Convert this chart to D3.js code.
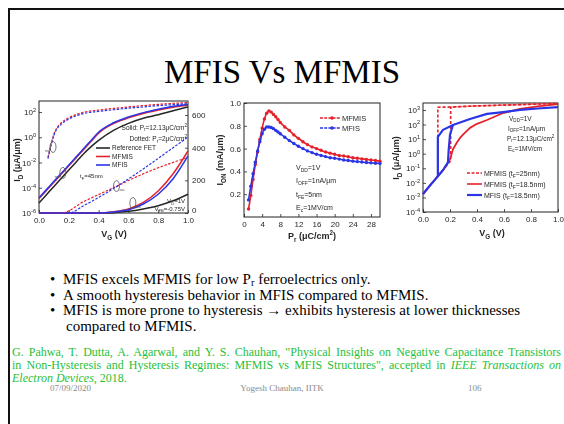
<!DOCTYPE html>
<html><head><meta charset="utf-8">
<script src="https://cdn.jsdelivr.net/npm/d3@7"></script>
<style>
html,body{margin:0;padding:0;background:#fff;}
svg{display:block;}
</style></head><body>
<svg id="slide" width="564" height="424"></svg>
<script>
// ---------- Panel (a): ID–VG, log scale (left) and linear scale (right) ----------
const vgA = [0, 0.05, 0.1, 0.15, 0.2, 0.25, 0.3, 0.35, 0.4, 0.5, 0.6, 0.7, 0.8, 0.9, 1.0];
const idLogRef   = [6.3e-6, 2.8e-5, 1.26e-4, 5.6e-4, 2.5e-3, 1.1e-2, 0.05, 0.18, 0.56, 3.5, 12.6, 32, 60, 126, 251];
const idLogMfmis = [1.4e-5, 6.0e-5, 2.7e-4, 1.2e-3, 5.4e-3, 2.4e-2, 0.107, 0.48, 2.1, 12, 34, 76, 141, 240, 338];
const idLogMfis  = [1.6e-5, 7.1e-5, 3.2e-4, 1.4e-3, 6.3e-3, 2.8e-2, 0.126, 0.56, 2.5, 14, 40, 89, 166, 282, 398];
const vgDot = [0.06, 0.08, 0.1, 0.12, 0.15, 0.2, 0.25, 0.3, 0.4, 0.5, 0.6, 0.7, 0.8, 0.9, 1.0];
const idLogDotMfmis = [2.5e-2, 0.25, 1.8, 5.6, 14, 35, 63, 95, 141, 190, 250, 320, 400, 480, 560];
const idLogDotMfis  = [2.0e-2, 0.2, 1.4, 4.5, 11, 28, 50, 76, 112, 150, 200, 250, 316, 380, 450];
const vgLin = [0, 0.2, 0.4, 0.5, 0.6, 0.7, 0.8, 0.9, 1.0];
const idLinRef   = [0, 0, 0, 2, 10, 25, 45, 75, 115];
const idLinMfmis = [0, 0, 0, 8, 25, 65, 135, 240, 380];
const idLinMfis  = [0, 0, 0, 6, 20, 55, 115, 210, 350];
const vgLinDotMfmis = [0, 0.15, 0.3, 0.5, 0.7, 0.9, 1.0];
const idLinDotMfmis = [0, 0, 70, 155, 240, 310, 340];
const vgLinDotMfis  = [0, 0.2, 0.3, 0.5, 0.7, 0.9, 1.0];
const idLinDotMfis  = [0, 0, 45, 150, 270, 400, 465];
const vgTicks = [0, 0.2, 0.4, 0.6, 0.8, 1.0];
const expTicksA = [2, 0, -2, -4, -6];
const linTicksA = [0, 200, 400, 600];

// ---------- Panel (b): ION vs remanent polarization ----------
const prVals = [1, 1.5, 2, 2.5, 3, 3.5, 4, 4.5, 5, 5.5, 6, 6.5, 7, 7.5, 8,
                9, 10, 11, 12, 13, 14, 15, 16, 17, 18, 19, 20, 21, 22, 23, 24, 25, 26, 27, 28, 29, 30];
const ionMfmis = [0.07, 0.19, 0.33, 0.46, 0.57, 0.68, 0.78, 0.86, 0.91, 0.93, 0.92, 0.90, 0.88, 0.855, 0.83,
                  0.79, 0.76, 0.72, 0.69, 0.66, 0.635, 0.615, 0.60, 0.585, 0.57, 0.56, 0.55, 0.54, 0.535, 0.528, 0.52, 0.515, 0.51, 0.505, 0.50, 0.495, 0.49];
const ionMfis  = [0.15, 0.27, 0.38, 0.48, 0.58, 0.66, 0.73, 0.77, 0.79, 0.79, 0.785, 0.775, 0.76, 0.745, 0.73,
                  0.70, 0.67, 0.645, 0.62, 0.60, 0.58, 0.565, 0.55, 0.54, 0.53, 0.52, 0.515, 0.508, 0.50, 0.495, 0.49, 0.486, 0.482, 0.478, 0.475, 0.472, 0.47];
const prTicks = [0, 4, 8, 12, 16, 20, 24, 28];
const ionTicks = [0.2, 0.4, 0.6, 0.8, 1.0];

// ---------- Panel (c): hysteretic ID–VG sweeps ----------
const vgMfisFwd = [0, 0.05, 0.1, 0.11, 0.11, 0.148, 0.222, 0.348, 0.474, 0.593, 0.719, 0.85, 1.0];
const idMfisFwd = [1.7e-3, 6.3e-3, 2.2e-2, 2.8e-2, 14, 43, 93, 240, 540, 720, 1000, 1260, 1580];
const vgMfisRev = [0.11, 0.15, 0.185, 0.19, 0.2, 0.222];
const idMfisRev = [2.8e-2, 7.9e-2, 0.25, 1.6, 20, 93];
const vgMfmis18 = [0, 0.05, 0.1, 0.15, 0.2, 0.222, 0.25, 0.274, 0.3, 0.348, 0.4, 0.474, 0.593, 0.719, 0.85, 1.0];
const idMfmis18 = [1.7e-3, 6.3e-3, 2.2e-2, 7.9e-2, 0.4, 2, 5.6, 12, 22, 59, 112, 204, 617, 1175, 1780, 2510];
const vgMfmis25Fwd = [0, 0.1, 0.205, 0.205, 0.4, 0.7, 1.0];
const idMfmis25Fwd = [1.7e-3, 2.2e-2, 0.32, 1580, 1900, 2290, 2820];
const vgMfmis25Rev = [1.0, 0.7, 0.4, 0.205, 0.11, 0.11];
const idMfmis25Rev = [2820, 2290, 1900, 1580, 1550, 2.8e-2];
const expTicksC = [3, 2, 1, 0, -1, -2, -3, -4];

const RED = '#e5232b', BLUE = '#2b35e6', INK = '#262626';
const SANS = 'Liberation Sans, Arial, sans-serif';
const SERIF = 'Liberation Serif, Times New Roman, serif';

const svg = d3.select('#slide');
svg.append('defs').append('filter').attr('id', 'soft')
  .append('feGaussianBlur').attr('stdDeviation', 0.5);

const zip = (xs, ys) => xs.map((x, i) => [x, ys[i]]);

// text with sub/superscript runs: parts = [[string, 'n'|'sub'|'sup'], ...]
function rich(text, parts, fs, subShift = 0.3) {
  let shift = 0;
  parts.forEach(([s, kind]) => {
    const t = text.append('tspan').text(s);
    const target = kind === 'sub' ? fs * subShift : kind === 'sup' ? -fs * 0.4 : 0;
    if (target !== shift) { t.attr('dy', target - shift); shift = target; }
    if (kind !== 'n') t.attr('font-size', fs * 0.7);
  });
  return text;
}
function label(g, x, y, parts, fs, opts = {}) {
  const t = g.append('text').attr('x', x).attr('y', y)
    .attr('font-size', fs).attr('font-family', opts.family || SANS)
    .attr('fill', opts.fill || INK)
    .attr('text-anchor', opts.anchor || 'start');
  if (opts.weight) t.attr('font-weight', opts.weight);
  if (opts.rotate) t.attr('transform', `rotate(-90,${x},${y})`);
  return rich(t, parts, fs, opts.subShift);
}
function styleAxis(g, fs) {
  g.select('.domain').remove();
  g.attr('font-family', SANS).attr('font-size', fs).attr('color', INK);
  g.selectAll('.tick line').attr('stroke-width', 0.8);
}
function powerLabels(g, exps) {
  g.selectAll('.tick text').each(function (d, i) {
    const t = d3.select(this).text(null);
    rich(t, [['10', 'n'], [String(exps[i]), 'sup']], 8);
  });
}

// ---------- slide frame and title ----------
svg.append('path').attr('d', 'M9,424V9H564').attr('fill', 'none')
  .attr('stroke', '#111').attr('stroke-width', 2);
svg.append('text').attr('x', 282).attr('y', 83).attr('text-anchor', 'middle')
  .attr('font-family', SERIF).attr('font-size', 33).attr('fill', '#000')
  .text('MFIS Vs MFMIS');

// =================== Panel (a) ===================
{
  const g = svg.append('g').attr('filter', 'url(#soft)');
  const x = d3.scaleLinear().domain([0, 1]).range([39, 188]);
  const yLog = d3.scaleLog().domain([1e-6, 741]).range([213, 101]);
  const yLin = d3.scaleLinear().domain([0, 686]).range([213, 101]);

  g.append('g').attr('transform', 'translate(0,213)')
    .call(d3.axisBottom(x).tickValues(vgTicks).tickFormat(d3.format('.1f'))
      .tickSizeInner(-3).tickSizeOuter(0).tickPadding(4))
    .call(a => styleAxis(a, 8));
  g.append('g').attr('transform', 'translate(39,0)')
    .call(d3.axisLeft(yLog).tickValues(expTicksA.map(e => Math.pow(10, e)))
      .tickSizeInner(-3).tickSizeOuter(0).tickPadding(3))
    .call(a => styleAxis(a, 8))
    .call(a => powerLabels(a, expTicksA));
  g.append('g').attr('transform', 'translate(188,0)')
    .call(d3.axisRight(yLin).tickValues(linTicksA)
      .tickSizeInner(-3).tickSizeOuter(0).tickPadding(4))
    .call(a => styleAxis(a, 8))
    .call(a => a.selectAll('.tick text').filter(d => d === 0).attr('dy', '-0.1em'));
  g.append('rect').attr('x', 39).attr('y', 101).attr('width', 149).attr('height', 112)
    .attr('fill', 'none').attr('stroke', INK).attr('stroke-width', 1);

  const lLog = d3.line().x(d => x(d[0])).y(d => yLog(d[1])).curve(d3.curveMonotoneX);
  const lLin = d3.line().x(d => x(d[0])).y(d => yLin(d[1])).curve(d3.curveMonotoneX);
  const draw = (data, gen, color, dash, w) => g.append('path').datum(data).attr('d', gen)
    .attr('fill', 'none').attr('stroke', color).attr('stroke-width', w || 1.5)
    .attr('stroke-dasharray', dash || null);

  draw(zip(vgA, idLogRef), lLog, INK);
  draw(zip(vgA, idLogMfmis), lLog, RED);
  draw(zip(vgA, idLogMfis), lLog, BLUE);
  draw(zip(vgLin, idLinRef), lLin, INK);
  draw(zip(vgLin, idLinMfmis), lLin, RED);
  draw(zip(vgLin, idLinMfis), lLin, BLUE);
  draw(zip(vgDot, idLogDotMfmis), lLog, RED, '2.5,1.5', 1.2);
  draw(zip(vgDot, idLogDotMfis), lLog, BLUE, '2.5,1.5', 1.2);
  draw(zip(vgLinDotMfmis, idLinDotMfmis), lLin, RED, '2.5,1.5', 1.2);
  draw(zip(vgLinDotMfis, idLinDotMfis), lLin, BLUE, '2.5,1.5', 1.2);

  // hysteresis call-outs (ellipse + arrow toward the axis it refers to)
  const marks = [
    { vg: 0.094, v: 0.17, scale: yLog, dir: -1 },
    { vg: 0.16, v: 1.5e-3, scale: yLog, dir: -1 },
    { vg: 0.52, v: 165, scale: yLin, dir: 1 },
    { vg: 0.63, v: 61, scale: yLin, dir: 1 }
  ];
  marks.forEach(m => {
    const cx = x(m.vg), cy = m.scale(m.v);
    g.append('ellipse').attr('cx', cx).attr('cy', cy).attr('rx', 3).attr('ry', 5.5)
      .attr('fill', 'none').attr('stroke', '#555').attr('stroke-width', 0.8);
    g.append('path').attr('d', `M${cx + m.dir * 3},${cy + 4}h${m.dir * 5}`)
      .attr('stroke', '#555').attr('stroke-width', 0.8);
  });

  // legend
  [['Reference FET', INK, 148], ['MFMIS', RED, 156.5], ['MFIS', BLUE, 165]].forEach(([t, c, yy]) => {
    g.append('line').attr('x1', 96).attr('x2', 110).attr('y1', yy).attr('y2', yy)
      .attr('stroke', c).attr('stroke-width', 1.6);
    label(g, 112, yy + 2.3, [[t, 'n']], 6.5);
  });
  label(g, 187, 129.5, [['Solid: P', 'n'], ['r', 'sub'], ['=12.13μC/cm', 'n'], ['2', 'sup']], 6.5, { anchor: 'end' });
  label(g, 187, 141, [['Dotted: P', 'n'], ['r', 'sub'], ['=2μC/cm', 'n'], ['2', 'sup']], 6.5, { anchor: 'end' });
  label(g, 80, 178, [['t', 'n'], ['F', 'sub'], ['=45nm', 'n']], 6);
  label(g, 185, 203, [['V', 'n'], ['D', 'sub'], ['=1V', 'n']], 6, { anchor: 'end' });
  label(g, 185, 210.5, [['V', 'n'], ['FB', 'sub'], ['=-0.75V', 'n']], 6, { anchor: 'end' });

  label(g, 114, 237, [['V', 'n'], ['G', 'sub'], [' (V)', 'n']], 9, { anchor: 'middle', weight: 'bold' });
  label(g, 20, 160, [['I', 'n'], ['D', 'sub'], [' (μA/μm)', 'n']], 9, { anchor: 'middle', weight: 'bold', rotate: true });
}

// =================== Panel (b) ===================
{
  const g = svg.append('g').attr('filter', 'url(#soft)');
  const x = d3.scaleLinear().domain([0, 30]).range([244, 380]);
  const y = d3.scaleLinear().domain([0, 1]).range([217, 103]);

  g.append('g').attr('transform', 'translate(0,217)')
    .call(d3.axisBottom(x).tickValues(prTicks).tickSizeInner(-3).tickSizeOuter(0).tickPadding(4))
    .call(a => styleAxis(a, 8));
  g.append('g').attr('transform', 'translate(244,0)')
    .call(d3.axisLeft(y).tickValues(ionTicks).tickFormat(d3.format('.1f'))
      .tickSizeInner(-3).tickSizeOuter(0).tickPadding(3))
    .call(a => styleAxis(a, 8));
  g.append('rect').attr('x', 244).attr('y', 103).attr('width', 136).attr('height', 114)
    .attr('fill', 'none').attr('stroke', INK).attr('stroke-width', 1);

  const line = d3.line().x(d => x(d[0])).y(d => y(d[1])).curve(d3.curveMonotoneX);
  [[ionMfmis, RED], [ionMfis, BLUE]].forEach(([vals, c]) => {
    const data = zip(prVals, vals);
    g.append('path').datum(data).attr('d', line).attr('fill', 'none')
      .attr('stroke', c).attr('stroke-width', 1.6);
    g.selectAll(null).data(data).join('circle')
      .attr('cx', d => x(d[0])).attr('cy', d => y(d[1])).attr('r', 1.7).attr('fill', c);
  });

  [['MFMIS', RED, 118], ['MFIS', BLUE, 128]].forEach(([t, c, yy]) => {
    g.append('line').attr('x1', 320).attr('x2', 340).attr('y1', yy).attr('y2', yy)
      .attr('stroke', c).attr('stroke-width', 1.4).attr('stroke-dasharray', '3,1.2');
    g.append('circle').attr('cx', 332).attr('cy', yy).attr('r', 1.8).attr('fill', c);
    label(g, 342, yy + 2.6, [[t, 'n']], 7.5);
  });
  label(g, 296, 169.5, [['V', 'n'], ['DD', 'sub'], ['=1V', 'n']], 7);
  label(g, 296, 183, [['I', 'n'], ['OFF', 'sub'], ['=1nA/μm', 'n']], 7);
  label(g, 296, 196.5, [['t', 'n'], ['FE', 'sub'], ['=5nm', 'n']], 7);
  label(g, 296, 209.5, [['E', 'n'], ['c', 'sub'], ['=1MV/cm', 'n']], 7);

  label(g, 312, 239, [['P', 'n'], ['r', 'sub'], [' (μC/cm', 'n'], ['2', 'sup'], [')', 'n']], 9, { anchor: 'middle', weight: 'bold' });
  label(g, 223, 160, [['I', 'n'], ['ON', 'sub'], [' (mA/μm)', 'n']], 9, { anchor: 'middle', weight: 'bold', rotate: true });
}

// =================== Panel (c) ===================
{
  const g = svg.append('g').attr('filter', 'url(#soft)');
  const x = d3.scaleLinear().domain([0, 1]).range([423, 558]);
  const y = d3.scaleLog().domain([1e-4, 3000]).range([212, 103]);

  g.append('g').attr('transform', 'translate(0,212)')
    .call(d3.axisBottom(x).tickValues(vgTicks).tickFormat(d3.format('.1f'))
      .tickSizeInner(-3).tickSizeOuter(0).tickPadding(4))
    .call(a => styleAxis(a, 8));
  g.append('g').attr('transform', 'translate(423,0)')
    .call(d3.axisLeft(y).tickValues(expTicksC.map(e => Math.pow(10, e)))
      .tickSizeInner(-3).tickSizeOuter(0).tickPadding(3))
    .call(a => styleAxis(a, 8))
    .call(a => powerLabels(a, expTicksC));
  g.append('rect').attr('x', 423).attr('y', 103).attr('width', 135).attr('height', 109)
    .attr('fill', 'none').attr('stroke', INK).attr('stroke-width', 1);

  const line = d3.line().x(d => x(d[0])).y(d => y(d[1]));
  const draw = (data, color, w, dash, off) => g.append('path').datum(data).attr('d', line)
    .attr('fill', 'none').attr('stroke', color).attr('stroke-width', w)
    .attr('stroke-linejoin', 'round')
    .attr('stroke-dasharray', dash || null).attr('stroke-dashoffset', off || 0);

  draw(zip(vgMfmis25Fwd, idMfmis25Fwd), RED, 1.6, '3,2', 0);
  draw(zip(vgMfmis25Rev, idMfmis25Rev), RED, 1.6, '3,2', 2.5);
  draw(zip(vgMfmis18, idMfmis18), RED, 1.8);
  draw(zip(vgMfisRev, idMfisRev), BLUE, 2.2);
  draw(zip(vgMfisFwd, idMfisFwd), BLUE, 2.2);

  [['MFMIS (t', 'F', '=25nm)', RED, 173, '3,1.5'],
   ['MFMIS (t', 'F', '=18.5nm)', RED, 184, null],
   ['MFIS (t', 'F', '=18.5nm)', BLUE, 195, null]].forEach(([a, s, b, c, yy, dash]) => {
    g.append('line').attr('x1', 467).attr('x2', 482).attr('y1', yy).attr('y2', yy)
      .attr('stroke', c).attr('stroke-width', c === BLUE ? 2.2 : 1.6).attr('stroke-dasharray', dash);
    label(g, 484, yy + 2.5, [[a, 'n'], [s, 'sub'], [b, 'n']], 7);
  });
  label(g, 509, 120.5, [['V', 'n'], ['DD', 'sub'], ['=1V', 'n']], 6.5);
  label(g, 508, 130.5, [['I', 'n'], ['OFF', 'sub'], ['=1nA/μm', 'n']], 6.5);
  label(g, 507, 140.5, [['P', 'n'], ['r', 'sub'], ['=12.13μC/cm', 'n'], ['2', 'sup']], 6.5);
  label(g, 508, 150.5, [['E', 'n'], ['c', 'sub'], ['=1MV/cm', 'n']], 6.5);

  label(g, 492, 236, [['V', 'n'], ['G', 'sub'], [' (V)', 'n']], 9, { anchor: 'middle', weight: 'bold' });
  label(g, 399, 158, [['I', 'n'], ['D', 'sub'], [' (μA/μm)', 'n']], 9, { anchor: 'middle', weight: 'bold', rotate: true });
}

// ---------- bullet points ----------
const bullets = [
  { y: 284, parts: [['MFIS excels MFMIS for low P', 'n'], ['r', 'sub'], [' ferroelectrics only.', 'n']], dot: true },
  { y: 299.5, parts: [['A smooth hysteresis behavior in MFIS compared to MFMIS.', 'n']], dot: true },
  { y: 315, parts: [['MFIS is more prone to hysteresis → exhibits hysteresis at lower thicknesses', 'n']], dot: true },
  { y: 330.5, parts: [['compared to MFMIS.', 'n']], dot: false }
];
bullets.forEach(b => {
  if (b.dot) svg.append('text').attr('x', 50).attr('y', b.y).attr('font-family', SERIF)
    .attr('font-size', 15).text('•');
  label(svg, b.dot ? 63 : 66, b.y, b.parts, 15, { family: SERIF, fill: '#000', subShift: 0.1 });
});

// ---------- reference (first two lines justified to the right margin) ----------
const GREEN = '#1fbf3a';
const cite = svg.append('g').attr('font-family', SERIF).attr('font-size', 12).attr('fill', GREEN);
const c1 = cite.append('text').attr('x', 12).attr('y', 355.5)
  .text('G. Pahwa, T. Dutta, A. Agarwal, and Y. S. Chauhan, "Physical Insights on Negative Capacitance Transistors');
const c2 = cite.append('text').attr('x', 12).attr('y', 368.5);
c2.append('tspan').text('in Non-Hysteresis and Hysteresis Regimes: MFMIS vs MFIS Structures", accepted in ');
c2.append('tspan').attr('font-style', 'italic').text('IEEE Transactions on');
const c3 = cite.append('text').attr('x', 12).attr('y', 381.5);
c3.append('tspan').attr('font-style', 'italic').text('Electron Devices');
c3.append('tspan').text(', 2018.');
[c1, c2].forEach(t => {
  const node = t.node();
  const spaces = (node.textContent.match(/ /g) || []).length;
  const extra = 561 - 12 - node.getComputedTextLength();
  if (spaces && extra > 0) t.attr('word-spacing', extra / spaces);
});

// ---------- footer ----------
const foot = svg.append('g').attr('font-family', SERIF).attr('font-size', 9).attr('fill', '#8a8a8a');
foot.append('text').attr('x', 50).attr('y', 391).text('07/09/2020');
foot.append('text').attr('x', 282).attr('y', 391).attr('text-anchor', 'middle').text('Yogesh Chauhan, IITK');
foot.append('text').attr('x', 468).attr('y', 391).text('106');
</script>
</body></html>
